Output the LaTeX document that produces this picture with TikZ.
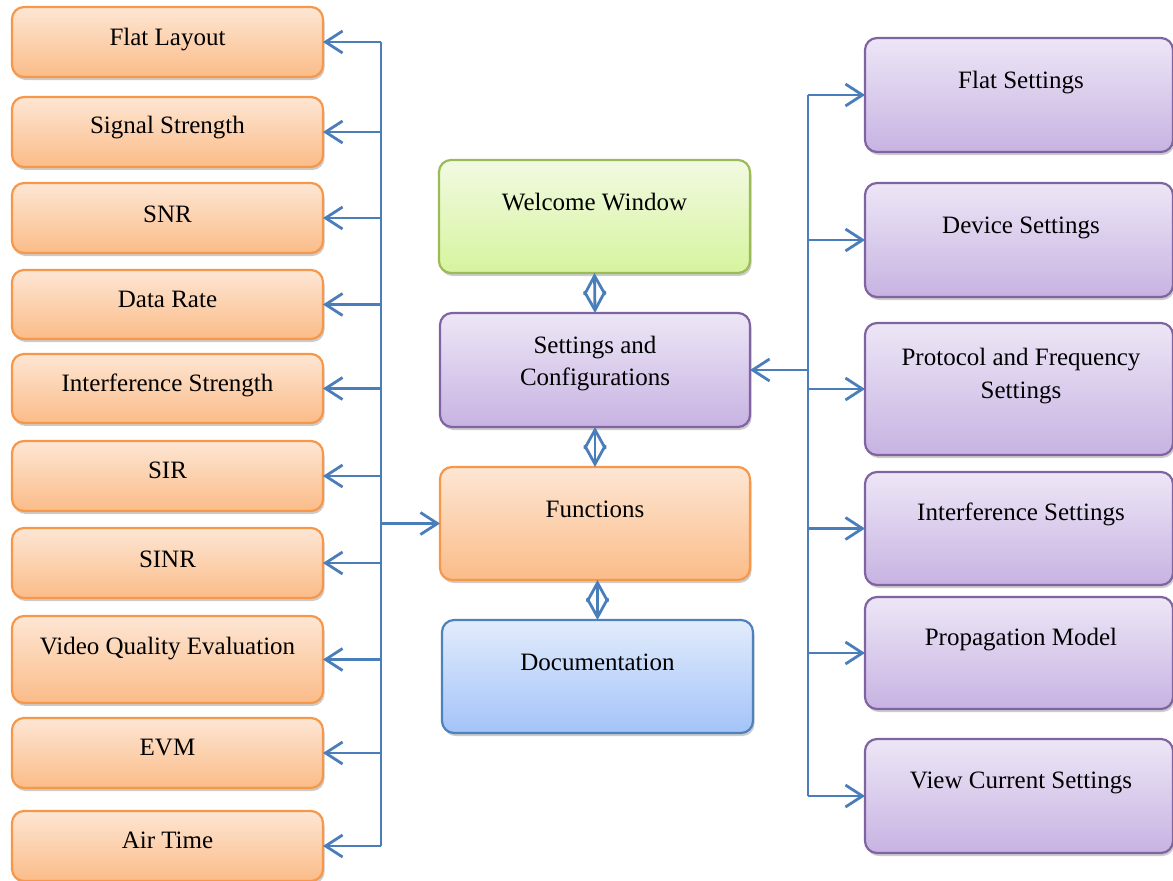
\documentclass[tikz,border=0pt]{standalone}
\usepackage{fontspec}
\setmainfont{Liberation Serif}
\usetikzlibrary{arrows.meta,shadows,calc}
\definecolor{lineblue}{HTML}{4A7EBB}
\definecolor{orB}{HTML}{F6974A}
\definecolor{orT}{HTML}{FDE6D4}
\definecolor{orBot}{HTML}{FBBC88}
\definecolor{puB}{HTML}{8064A2}
\definecolor{puT}{HTML}{EDE6F6}
\definecolor{puBot}{HTML}{C7B3E2}
\definecolor{grB}{HTML}{9BBB59}
\definecolor{grT}{HTML}{F2FAE2}
\definecolor{grBot}{HTML}{D6F49E}
\definecolor{blB}{HTML}{4F81BD}
\definecolor{blT}{HTML}{E2ECFC}
\definecolor{blBot}{HTML}{A3C3F8}
\tikzset{
  boxbase/.style={rectangle, rounded corners=12pt, line width=2.2pt, inner sep=0pt, outer sep=0pt,
    drop shadow={shadow xshift=1.5pt, shadow yshift=-3pt, opacity=0.2, fill=black}},
  obox/.style={boxbase, draw=orB, top color=orT, bottom color=orBot},
  pbox/.style={boxbase, draw=puB, top color=puT, bottom color=puBot},
  gbox/.style={boxbase, draw=grB, top color=grT, bottom color=grBot},
  bbox/.style={boxbase, draw=blB, top color=blT, bottom color=blBot},
  lbl/.style={anchor=base, inner sep=0pt, font=\fontsize{25pt}{32pt}\selectfont, text=black},
  conn/.style={draw=lineblue, line width=2.8pt},
  arr/.style={conn, -{Straight Barb[length=17pt,width=22pt]}},
  darr/.style={conn, {Straight Barb[length=19pt,width=21pt]}-{Straight Barb[length=19pt,width=21pt]}}
}
\newcommand{\lbox}[5]{% name, top, bottom, baseline, text
  \node[obox, minimum width=311pt, minimum height={(#3-#2)*1pt}] (#1) at (167.5,{(#2+#3)/2}) {};
  \node[lbl] (#1t) at (167.5,#4) {#5};}
\newcommand{\rbox}[3]{% name, top, bottom
  \node[pbox, minimum width=308pt, minimum height={(#3-#2)*1pt}] (#1) at (1019,{(#2+#3)/2}) {};}
\begin{document}
\begin{tikzpicture}[x=1pt,y=-1pt]
\useasboundingbox[fill=white] (0,0) rectangle (1173,881);

% left column
\lbox{l1}{7}{77}{45}{Flat Layout}
\lbox{l2}{97}{167}{133}{Signal Strength}
\lbox{l3}{183}{253}{222}{SNR}
\lbox{l4}{270}{339}{307}{Data Rate}
\lbox{l5}{354}{423}{391}{Interference Strength}
\lbox{l6}{441}{511}{478}{SIR}
\lbox{l7}{528}{598}{567}{SINR}
\lbox{l8}{616}{703}{654}{Video Quality Evaluation}
\lbox{l9}{718}{788}{755}{EVM}
\lbox{l10}{811}{881}{848}{Air Time}

% center column
\node[gbox, minimum width=311pt, minimum height=113pt] (ww) at (594.5,216.5) {};
\node[lbl] (wwt) at (594.5,210) {Welcome Window};
\node[pbox, minimum width=310pt, minimum height=114pt] (set) at (595,370) {};
\node[lbl] (sett1) at (595,353) {Settings and};
\node[lbl] (sett2) at (595,385) {Configurations};
\node[obox, minimum width=310pt, minimum height=113pt] (fn) at (595,523.5) {};
\node[lbl] (fnt) at (595,517) {Functions};
\node[bbox, minimum width=311pt, minimum height=113pt] (doc) at (597.5,676.5) {};
\node[lbl] (doct) at (597.5,670) {Documentation};

% right column
\rbox{r1}{38}{152}
\node[lbl] (r1t) at (1021,88) {Flat Settings};
\rbox{r2}{183}{297}
\node[lbl] (r2t) at (1021,233) {Device Settings};
\rbox{r3}{323}{455}
\node[lbl] (r3a) at (1021,365) {Protocol and Frequency};
\node[lbl] (r3b) at (1021,398) {Settings};
\rbox{r4}{472}{585}
\node[lbl] (r4t) at (1021,520) {Interference Settings};
\rbox{r5}{597}{709}
\node[lbl] (r5t) at (1021,645) {Propagation Model};
\rbox{r6}{739}{853}
\node[lbl] (r6t) at (1021,788) {View Current Settings};

% buses
\coordinate (busL) at (381,0);
\coordinate (busR) at (808,0);
\draw[conn] (busL |- l1.east) -- (busL |- l10.east);
\foreach \n in {l1,l2,l3,l4,l5,l6,l7,l8,l9,l10}
  \draw[arr] (busL |- \n.east) -- (\n.east);
\draw[arr] (busL |- fn.west) -- (fn.west);

\draw[conn] (busR |- r1.west) -- (busR |- r6.west);
\foreach \n in {r1,r2,r3,r4,r5,r6}
  \draw[arr] (busR |- \n.west) -- (\n.west);
\draw[arr] (busR |- set.east) -- (set.east);

% vertical double arrows
\draw[darr] (ww.south) -- (set.north);
\draw[darr] (set.south) -- (fn.north);
\draw[darr] (doc.north |- fn.south) -- (doc.north);
\end{tikzpicture}
\end{document}
